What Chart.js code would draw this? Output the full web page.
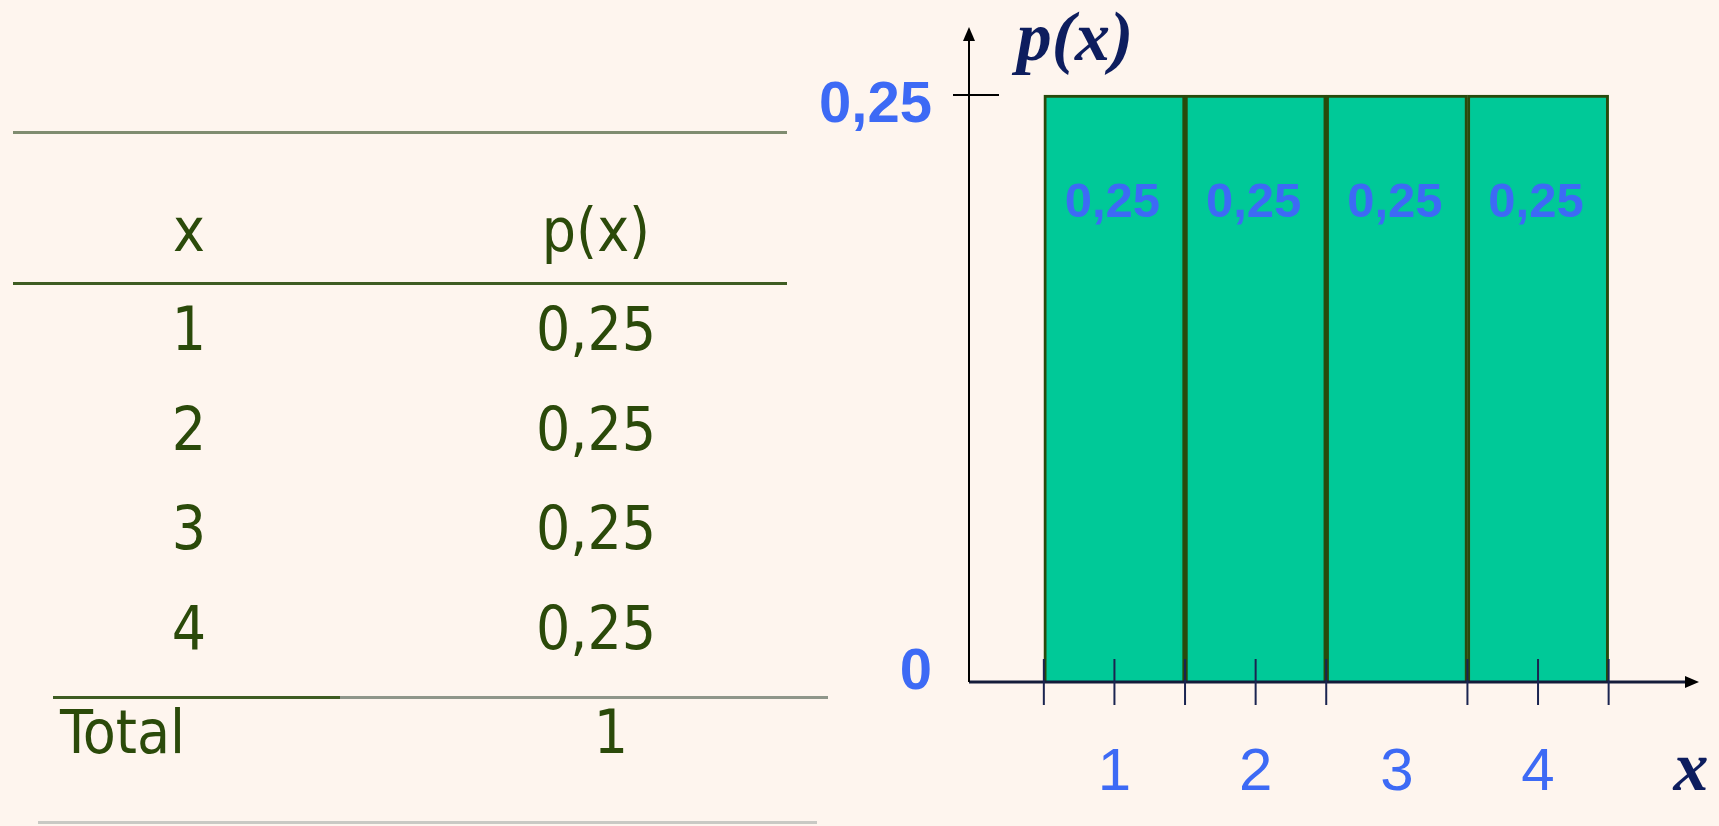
<!DOCTYPE html>
<html>
<head>
<meta charset="utf-8">
<script src="https://cdn.jsdelivr.net/npm/chart.js@4.4.1/dist/chart.umd.min.js"></script>
<style>
  html, body { margin: 0; padding: 0; background: #fef5ee; }
  #page { position: relative; width: 1719px; height: 826px; overflow: hidden; background: #fef5ee; }
  #myChart { position: absolute; left: 0; top: 0; }
  .cell { position: absolute; font-family: 'DejaVu Sans Condensed', 'DejaVu Sans', sans-serif; font-size: 60px;
          line-height: 60px; color: #2b4a0a; transform: translate(-50%, -50%); white-space: nowrap; }
  .rule { position: absolute; height: 3px; }
</style>
</head>
<body>
<div id="page">
  <canvas id="myChart" width="1719" height="826"></canvas>
</div>
<script>
const xValues = [1, 2, 3, 4];
const probs = [0.25, 0.25, 0.25, 0.25];
const total = 1;
const yTicks = [0, 0.25];
// tick marks on the x axis (the one at 3 is missing in the original)
const xTickMarks = [0.5, 1, 1.5, 2, 2.5, 3.5, 4, 4.5];

const fmt = v => String(v).replace('.', ',');
const page = document.getElementById('page');

// ---- left table ----
function addText(txt, x, y, extra) {
    const d = document.createElement('div');
    d.className = 'cell';
    d.textContent = txt;
    d.style.left = x + 'px';
    d.style.top = y + 'px';
    if (extra) Object.assign(d.style, extra);
    page.appendChild(d);
}
function addRule(x1, x2, y, color) {
    const d = document.createElement('div');
    d.className = 'rule';
    d.style.left = x1 + 'px';
    d.style.width = (x2 - x1) + 'px';
    d.style.top = (y - 1) + 'px';
    d.style.background = color;
    page.appendChild(d);
}

addRule(13, 787, 132, '#7f8c70');
addText('x', 189, 230);
addText('p(x)', 596, 230);
addRule(13, 787, 283, '#3e5c22');
xValues.forEach((v, i) => {
    const y = 329 + i * 99.5;
    addText(String(v), 189, y);
    addText(fmt(probs[i]), 596, y);
});
addRule(53, 340, 697, '#3e5c22');
addRule(340, 828, 697, '#8f968a');
addText('Total', 60, 732, {transform: 'translate(0, -50%)'});
addText(String(total), 611, 732);
addRule(38, 817, 822, '#c9c9c4');

// ---- chart ----
const blue = '#3d6af5';

const axesPlugin = {
    id: 'axesPlugin',
    afterDatasetsDraw(chart) {
        const ctx = chart.ctx;
        const xs = chart.scales.x, ys = chart.scales.y;
        const a = chart.chartArea;
        const x0 = a.left, y0 = ys.getPixelForValue(0);
        ctx.save();

        // labels inside bars
        const meta = chart.getDatasetMeta(0);
        ctx.fillStyle = blue;
        ctx.font = 'bold 49px "Liberation Sans", Arial, sans-serif';
        ctx.textAlign = 'center';
        ctx.textBaseline = 'middle';
        meta.data.forEach((bar, i) => {
            ctx.fillText(fmt(probs[i]), bar.x - 2, bar.y + 108);
        });

        // y tick labels (0 sits a bit above its tick, 0,25 a bit below)
        ctx.font = 'bold 58px "Liberation Sans", Arial, sans-serif';
        ctx.textAlign = 'right';
        yTicks.forEach(v => {
            const py = ys.getPixelForValue(v) + (v === 0 ? -9 : 11);
            ctx.fillText(fmt(v), x0 - 37, py);
        });

        // x axis with arrow
        ctx.strokeStyle = '#141c3a';
        ctx.lineWidth = 3;
        ctx.beginPath();
        ctx.moveTo(x0, y0);
        ctx.lineTo(a.right - 10, y0);
        ctx.stroke();
        ctx.fillStyle = '#000';
        ctx.beginPath();
        ctx.moveTo(a.right, y0);
        ctx.lineTo(a.right - 14, y0 - 6);
        ctx.lineTo(a.right - 14, y0 + 6);
        ctx.closePath();
        ctx.fill();

        // y axis with arrow
        ctx.strokeStyle = '#000';
        ctx.lineWidth = 2;
        ctx.beginPath();
        ctx.moveTo(x0, y0);
        ctx.lineTo(x0, a.top + 10);
        ctx.stroke();
        ctx.beginPath();
        ctx.moveTo(x0, a.top);
        ctx.lineTo(x0 - 6, a.top + 14);
        ctx.lineTo(x0 + 6, a.top + 14);
        ctx.closePath();
        ctx.fill();

        // tick at 0.25
        const yt = ys.getPixelForValue(0.25);
        ctx.beginPath();
        ctx.moveTo(x0 - 16, yt);
        ctx.lineTo(x0 + 30, yt);
        ctx.stroke();

        // x tick marks
        ctx.strokeStyle = '#1a2450';
        ctx.lineWidth = 2;
        xTickMarks.forEach(v => {
            const px = xs.getPixelForValue(v);
            ctx.beginPath();
            ctx.moveTo(px, y0 - 23);
            ctx.lineTo(px, y0 + 23);
            ctx.stroke();
        });

        // axis titles
        ctx.fillStyle = '#0d1d5e';
        ctx.font = 'italic bold 70px "Liberation Serif", "Times New Roman", serif';
        ctx.textAlign = 'center';
        ctx.fillText('p(x)', x0 + 106, 42);
        ctx.fillText('x', a.right - 8, y0 + 90);
        ctx.restore();
    }
};

const getChart = document.getElementById('myChart').getContext('2d');
const mychart = new Chart(getChart, {
    type: 'bar',
    data: {
        datasets: [{
            data: xValues.map((v, i) => ({x: v, y: probs[i]})),
            backgroundColor: '#00c998',
            borderColor: '#284a0c',
            borderWidth: 3,
            barPercentage: 1,
            categoryPercentage: 1
        }]
    },
    options: {
        responsive: false,
        animation: false,
        layout: {
            padding: {left: 780, top: 27, right: 20, bottom: 0}
        },
        scales: {
            x: {
                type: 'linear',
                offset: false,
                min: -0.03,
                max: 5.14,
                grid: {display: false, drawTicks: false},
                border: {display: false},
                afterBuildTicks: s => { s.ticks = xValues.map(v => ({value: v})); },
                afterFit: s => { s.height = 144; s.paddingLeft = 0; s.paddingRight = 0; },
                ticks: {
                    padding: 55,
                    color: blue,
                    font: {family: '"Liberation Sans", Arial, sans-serif', size: 60},
                    callback: v => String(v)
                }
            },
            y: {
                min: 0,
                max: 0.279,
                grid: {display: false, drawTicks: false},
                border: {display: false},
                afterBuildTicks: s => { s.ticks = yTicks.map(v => ({value: v})); },
                afterFit: s => { s.width = 189; s.paddingTop = 0; s.paddingBottom = 0; },
                ticks: {display: false}
            }
        },
        plugins: {
            legend: {display: false},
            tooltip: {enabled: false}
        }
    },
    plugins: [axesPlugin]
});
</script>
</body>
</html>
